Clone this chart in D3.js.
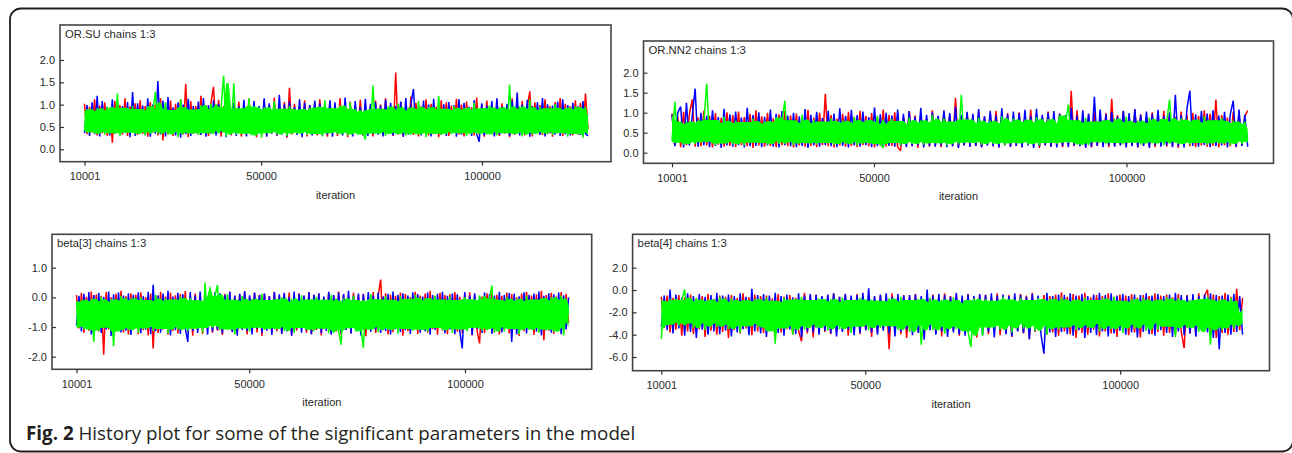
<!DOCTYPE html>
<html>
<head>
<meta charset="utf-8">
<script src="https://cdn.jsdelivr.net/npm/d3@7"></script>
<style>
  body { margin: 0; background: #fff; }
  svg { display: block; }
</style>
</head>
<body>
<div id="chart"></div>
<script>
// iterations kept after burn-in, samples are evenly spaced between them
const iterStart = 10001;
const iterEnd = 124000;
const xTicks = [10001, 50000, 100000];

const panelTitles = ["OR.SU chains 1:3", "OR.NN2 chains 1:3", "beta[3] chains 1:3", "beta[4] chains 1:3"];
const yTicks = [[0, 0.5, 1.0, 1.5, 2.0], [0, 0.5, 1.0, 1.5, 2.0], [-2.0, -1.0, 0, 1.0], [-6.0, -4.0, -2.0, 0, 2.0]];
const chainColors = ["#ff0000", "#0000ff", "#00ff00"];
const caption = "History plot for some of the significant parameters in the model";

// OR.SU
const orsuChain1 = [
  1.02, 0.34, 0.95, 0.38, 1.12, 0.31, 0.98, 0.36, 1.05, 0.30,
  0.93, 0.15, 1.08, 0.37, 0.99, 0.33, 1.14, 0.30, 0.96, 0.39,
  1.03, 0.32, 1.10, 0.35, 0.97, 0.28, 1.06, 0.38, 1.00, 0.31,
  1.15, 0.20, 0.94, 0.34, 1.09, 0.30, 1.02, 0.37, 1.12, 0.33,
  1.47, 0.27, 1.08, 0.35, 0.97, 0.32, 1.20, 0.38, 0.99, 0.30,
  1.05, 1.40, 0.34, 1.11, 0.28, 0.96, 0.36, 1.04, 0.31, 0.93,
  0.35, 1.07, 0.29, 0.98, 0.33, 1.13, 0.37, 1.01, 0.27, 0.95,
  0.34, 1.09, 0.31, 1.00, 0.36, 1.16, 0.30, 0.94, 0.35, 1.06,
  0.26, 1.38, 0.33, 1.02, 0.38, 0.95, 0.32, 1.10, 0.29, 0.99,
  0.36, 1.04, 0.31, 1.12, 0.34, 0.97, 0.28, 1.08, 0.37, 0.96,
  0.30, 1.15, 0.35, 1.01, 0.27, 1.07, 0.33, 0.98, 0.36, 1.11,
  0.31, 1.03, 0.38, 0.95, 0.29, 1.09, 0.34, 1.00, 0.32, 1.14,
  0.35, 0.97, 0.30, 1.72, 0.33, 1.06, 0.28, 0.99, 0.36, 1.18,
  0.32, 1.04, 0.29, 0.96, 0.37, 1.12, 0.31, 1.02, 0.34, 0.95,
  0.27, 1.10, 0.35, 1.05, 0.30, 0.98, 0.38, 1.13, 0.33, 1.00,
  0.29, 1.07, 0.36, 0.94, 0.31, 1.16, 0.34, 1.01, 0.28, 1.09,
  0.37, 0.97, 0.32, 1.11, 0.30, 1.03, 0.35, 0.96, 0.27, 1.14,
  0.33, 1.00, 0.38, 1.08, 0.31, 0.95, 1.30, 0.29, 1.05, 0.36,
  0.99, 0.32, 1.12, 0.34, 0.97, 0.28, 1.06, 0.37, 1.15, 0.30,
  1.02, 0.35, 0.96, 0.31, 1.10, 0.33, 1.04, 0.29, 1.25, 0.45
];
const orsuChain2 = [
  0.36, 0.99, 0.30, 1.05, 0.34, 1.20, 0.29, 1.08, 0.37, 0.95,
  0.31, 1.12, 0.35, 1.01, 0.33, 0.97, 0.38, 1.06, 0.27, 1.28,
  0.30, 1.03, 0.36, 0.98, 0.32, 1.14, 0.28, 1.00, 0.35, 1.53,
  0.33, 1.09, 0.29, 1.17, 0.37, 0.94, 0.31, 1.05, 0.26, 1.00,
  0.34, 1.13, 0.30, 0.97, 0.36, 1.07, 0.32, 1.15, 0.28, 0.99,
  0.35, 1.10, 0.31, 1.02, 0.38, 0.95, 0.27, 1.18, 0.33, 1.04,
  0.30, 0.96, 0.36, 1.11, 0.29, 1.00, 0.34, 1.08, 0.32, 0.97,
  0.37, 1.14, 0.28, 1.03, 0.35, 0.98, 0.31, 1.22, 0.33, 1.01,
  0.29, 1.07, 0.36, 0.95, 0.32, 1.12, 0.27, 1.04, 0.34, 0.99,
  0.31, 1.09, 0.37, 1.03, 0.30, 0.96, 0.33, 1.10, 0.28, 1.05,
  0.35, 0.97, 0.31, 1.16, 0.34, 1.00, 0.29, 1.08, 0.36, 0.95,
  0.32, 1.13, 0.30, 1.02, 0.35, 1.06, 0.33, 0.98, 0.29, 1.11,
  0.36, 1.04, 0.31, 0.97, 0.34, 1.07, 0.28, 1.15, 0.33, 1.02,
  1.35, 0.37, 0.96, 0.31, 1.09, 0.34, 1.00, 0.29, 1.13, 0.36,
  0.97, 0.32, 1.01, 0.30, 1.06, 0.35, 0.99, 0.28, 1.12, 0.33,
  1.04, 0.36, 0.95, 0.30, 1.10, 0.34, 0.17, 1.03, 0.31, 0.98,
  0.35, 1.08, 0.29, 1.14, 0.33, 0.96, 0.37, 1.02, 0.30, 1.09,
  0.34, 1.27, 0.31, 1.00, 0.36, 1.11, 0.28, 0.97, 0.35, 1.05,
  0.32, 1.15, 0.29, 1.01, 0.36, 0.98, 0.33, 1.07, 0.30, 1.12,
  0.34, 0.99, 0.31, 1.04, 0.37, 0.96, 0.32, 1.08, 0.35, 0.30
];
const orsuChain3 = [
  0.42, 0.90, 0.38, 0.86, 0.35, 0.92, 0.40, 0.84, 0.33, 0.95,
  0.39, 0.88, 0.36, 1.25, 0.30, 0.93, 0.41, 0.82, 0.37, 0.97,
  0.34, 0.90, 0.40, 0.87, 0.31, 0.96, 0.38, 0.85, 1.28, 0.35,
  0.91, 0.42, 1.05, 0.33, 0.88, 0.38, 0.83, 0.27, 1.12, 0.40,
  0.94, 0.35, 0.89, 0.37, 0.86, 0.32, 0.99, 0.39, 0.90, 0.36,
  1.02, 0.34, 0.87, 0.41, 0.95, 1.65, 0.29, 0.84, 0.37, 1.48,
  0.33, 0.92, 0.40, 0.86, 0.35, 1.15, 0.31, 0.96, 0.38, 0.83,
  0.26, 0.94, 0.36, 0.89, 0.42, 1.08, 0.33, 0.86, 0.39, 0.91,
  0.30, 0.97, 0.37, 0.84, 0.35, 0.90, 0.40, 0.88, 0.32, 0.93,
  0.38, 0.87, 0.34, 0.95, 0.29, 1.10, 0.36, 0.85, 0.41, 0.92,
  0.34, 0.98, 0.39, 0.86, 0.31, 1.05, 0.37, 0.90, 0.33, 0.84,
  0.40, 0.22, 0.88, 0.36, 1.43, 0.35, 0.91, 0.42, 0.86, 0.30,
  0.96, 0.38, 0.89, 0.34, 1.02, 0.37, 0.85, 0.31, 0.94, 0.39,
  0.87, 0.33, 1.08, 0.36, 0.90, 0.27, 0.95, 0.40, 0.86, 0.35,
  1.20, 0.32, 0.91, 0.38, 0.88, 0.34, 0.97, 0.41, 0.84, 0.36,
  0.93, 0.30, 0.89, 0.39, 1.04, 0.35, 0.86, 0.37, 0.92, 0.33,
  0.98, 0.40, 0.85, 0.31, 0.94, 0.38, 0.90, 0.36, 1.45, 0.34,
  0.87, 0.41, 0.96, 0.29, 0.91, 0.37, 1.12, 0.33, 0.88, 0.39,
  0.95, 0.35, 0.84, 0.40, 0.92, 0.32, 1.01, 0.38, 0.86, 0.36,
  0.93, 0.28, 0.89, 0.37, 0.97, 0.34, 0.90, 0.26, 0.95, 0.45
];

// OR.NN2
const ornn2Chain1 = [
  0.98, 0.17, 0.90, 0.14, 1.02, 0.19, 0.95, 1.33, 0.15, 0.88,
  0.16, 1.05, 0.18, 0.92, 0.13, 0.99, 0.20, 0.87, 0.15, 1.01,
  0.17, 0.94, 0.14, 1.03, 0.19, 0.89, 0.16, 0.97, 0.12, 1.06,
  0.18, 0.91, 0.15, 1.00, 0.17, 0.86, 0.14, 0.96, 0.19, 1.04,
  0.16, 0.93, 0.13, 0.98, 0.18, 0.90, 0.15, 1.07, 0.17, 0.88,
  0.14, 1.00, 0.19, 1.47, 0.16, 0.94, 0.13, 0.85, 0.18, 0.97,
  0.15, 1.02, 0.17, 0.90, 0.14, 1.05, 0.19, 0.92, 0.16, 0.99,
  0.13, 0.87, 0.18, 1.08, 0.15, 0.95, 0.17, 1.01, 0.14, 0.05,
  0.89, 0.19, 1.04, 0.16, 0.93, 0.12, 0.98, 0.18, 0.86, 0.15,
  1.06, 0.17, 0.91, 0.14, 1.02, 0.19, 0.95, 0.16, 1.37, 0.13,
  0.88, 0.18, 1.00, 0.15, 0.94, 0.17, 1.03, 0.14, 0.90, 0.19,
  0.97, 0.16, 1.05, 0.13, 0.92, 0.18, 0.99, 0.15, 0.87, 0.17,
  1.01, 0.14, 0.94, 0.19, 1.08, 0.16, 0.96, 0.12, 0.89, 0.18,
  1.03, 0.15, 0.91, 0.17, 0.98, 0.14, 0.93, 0.19, 1.55, 0.16,
  1.06, 0.18, 0.90, 0.15, 0.95, 0.13, 1.02, 0.17, 0.88, 0.19,
  0.99, 0.14, 1.35, 0.16, 0.94, 0.18, 1.04, 0.15, 0.91, 0.17,
  1.07, 0.13, 0.96, 0.19, 0.89, 0.16, 1.01, 0.14, 0.93, 0.18,
  1.05, 0.15, 0.98, 0.17, 0.90, 0.12, 1.03, 0.19, 0.95, 0.16,
  1.00, 0.14, 0.92, 0.18, 1.06, 0.15, 0.97, 0.17, 1.33, 0.13,
  0.94, 0.19, 0.88, 0.16, 1.02, 0.14, 0.99, 0.18, 0.91, 1.05
];
const ornn2Chain2 = [
  0.95, 0.16, 1.00, 1.15, 0.13, 1.25, 0.18, 0.92, 1.60, 0.15,
  1.00, 0.19, 0.92, 0.14, 1.06, 0.17, 0.89, 0.12, 1.10, 0.18,
  0.96, 0.15, 1.03, 0.19, 0.88, 0.13, 1.12, 0.16, 0.94, 0.17,
  1.01, 0.14, 0.90, 0.18, 1.08, 0.15, 0.97, 0.13, 1.04, 0.19,
  0.93, 0.16, 1.00, 0.14, 0.91, 0.17, 1.09, 0.12, 0.95, 0.18,
  1.02, 0.15, 0.87, 0.19, 1.05, 0.16, 0.98, 0.14, 1.11, 0.17,
  0.92, 0.13, 1.07, 0.18, 0.94, 0.15, 1.03, 0.19, 0.89, 0.14,
  1.13, 0.16, 0.96, 0.12, 1.00, 0.17, 0.93, 0.15, 1.08, 0.18,
  0.97, 0.14, 1.04, 0.16, 0.90, 0.19, 1.12, 0.13, 0.95, 0.17,
  1.01, 0.15, 0.92, 0.18, 1.06, 0.14, 0.99, 0.16, 1.15, 0.12,
  0.94, 0.19, 1.02, 0.15, 0.97, 0.17, 1.09, 0.14, 0.91, 0.18,
  1.05, 0.16, 0.93, 0.13, 1.11, 0.19, 0.96, 0.15, 1.03, 0.17,
  0.99, 0.14, 1.07, 0.18, 0.92, 0.12, 1.10, 0.16, 0.95, 0.19,
  1.00, 0.15, 1.04, 0.13, 0.97, 0.17, 0.94, 0.14, 1.12, 0.18,
  0.93, 0.16, 1.06, 0.12, 0.98, 0.15, 1.40, 0.17, 1.08, 0.14,
  0.96, 0.19, 1.02, 0.15, 0.90, 0.18, 1.05, 0.13, 0.99, 0.16,
  1.09, 0.14, 0.95, 0.17, 1.03, 0.12, 0.97, 0.19, 1.07, 0.15,
  0.92, 0.18, 1.01, 0.14, 1.45, 0.16, 0.94, 0.13, 1.10, 1.55,
  0.17, 0.96, 0.15, 1.04, 0.19, 0.98, 0.14, 1.06, 0.16, 0.93,
  0.18, 1.02, 0.13, 0.97, 1.30, 0.15, 1.08, 0.17, 0.95, 0.15
];
const ornn2Chain3 = [
  0.30, 1.27, 0.25, 0.72, 0.20, 0.78, 0.27, 0.68, 0.22, 0.80,
  0.26, 0.75, 1.73, 0.28, 0.82, 0.19, 0.70, 0.23, 0.90, 0.29,
  0.74, 0.21, 0.80, 0.27, 0.69, 0.18, 0.77, 0.25, 0.85, 0.30,
  0.73, 0.24, 0.79, 0.20, 0.67, 0.28, 0.88, 0.22, 0.76, 1.30,
  0.26, 0.81, 0.19, 0.71, 0.29, 0.95, 0.23, 0.74, 0.25, 0.83,
  0.21, 0.70, 0.27, 0.78, 0.24, 0.86, 0.20, 0.72, 0.28, 0.80,
  0.22, 0.75, 0.26, 0.89, 0.18, 0.68, 0.29, 0.82, 0.23, 0.77,
  0.25, 0.92, 0.21, 0.12, 0.71, 0.27, 0.84, 0.24, 0.79, 0.19,
  0.73, 0.28, 0.87, 0.22, 0.70, 0.26, 0.81, 0.20, 0.76, 0.29,
  0.94, 0.23, 0.72, 0.25, 0.85, 0.18, 0.78, 0.27, 0.69, 0.21,
  1.45, 0.30, 0.83, 0.24, 0.75, 0.26, 0.88, 0.20, 0.71, 0.28,
  0.80, 0.22, 0.74, 0.27, 0.91, 0.19, 0.68, 0.25, 0.86, 0.23,
  0.77, 0.29, 0.83, 0.21, 0.72, 0.26, 0.89, 0.18, 0.76, 0.24,
  0.84, 0.28, 0.70, 0.22, 0.93, 0.25, 0.73, 1.20, 0.27, 0.81,
  0.20, 0.75, 0.23, 0.87, 0.19, 0.71, 0.28, 0.78, 0.26, 0.82,
  0.22, 0.69, 0.30, 0.85, 0.24, 0.76, 0.21, 0.90, 0.27, 0.73,
  0.25, 0.80, 0.20, 0.74, 0.29, 0.88, 0.23, 0.71, 0.26, 0.84,
  0.19, 0.77, 1.33, 0.28, 0.72, 0.22, 0.86, 0.25, 0.79, 0.21,
  0.83, 0.27, 0.70, 0.24, 0.91, 0.20, 0.75, 0.29, 0.81, 0.23,
  0.87, 0.26, 0.74, 0.19, 0.80, 0.28, 0.71, 0.22, 0.78, 0.30
];

// beta[3]
const beta3Chain1 = [
  0.08, -1.05, 0.15, -1.20, 0.02, -1.12, 0.20, -1.30, 0.10, -1.15,
  0.05, -1.93, 0.18, -1.08, 0.00, -1.22, 0.12, -1.10, 0.22, -1.18,
  0.04, -1.25, 0.14, -1.06, 0.09, -1.24, 0.17, -1.11, 0.01, -1.28,
  0.13, -1.72, 0.06, -1.20, 0.19, -1.09, 0.03, -1.26, 0.16, -1.13,
  0.07, -1.22, 0.11, -1.05, 0.21, -1.17, 0.02, -1.29, 0.13, -1.10,
  0.05, -1.23, 0.18, -1.07, 0.09, -1.19, 0.14, -1.12, 0.00, -1.27,
  0.12, -1.08, 0.20, -1.16, 0.06, -1.21, 0.10, -1.04, 0.17, -1.25,
  0.03, -1.11, 0.15, -1.18, 0.08, -1.30, 0.12, -1.06, 0.04, -1.20,
  0.19, -1.14, 0.07, -1.23, 0.11, -1.09, 0.16, -1.27, 0.02, -1.12,
  0.14, -1.05, 0.05, -1.19, 0.18, -1.24, 0.09, -1.10, 0.13, -1.28,
  0.01, -1.07, 0.17, -1.21, 0.06, -1.15, 0.20, -1.26, 0.10, -1.09,
  0.04, -1.22, 0.15, -1.13, 0.08, -1.18, 0.12, -1.31, 0.03, -1.06,
  0.18, -1.20, 0.07, 0.60, -1.11, 0.14, -1.25, 0.09, -1.17, 0.05,
  -1.03, 0.16, -1.29, 0.11, -1.14, 0.01, -1.08, 0.19, -1.23, 0.06,
  -1.10, 0.13, -1.19, 0.22, -1.07, 0.04, -1.26, 0.15, -1.12, 0.08,
  -1.24, 0.10, -1.05, 0.18, -1.16, 0.02, -1.21, 0.12, -1.09, 0.17,
  -1.28, 0.07, -1.13, -1.55, 0.03, -1.20, 0.14, -1.06, 0.21, -1.18,
  0.09, -1.25, 0.05, -1.11, 0.16, -1.22, 0.11, -1.08, 0.00, -1.30,
  0.13, -1.14, 0.19, -1.04, 0.06, -1.27, 0.10, -1.17, 0.22, -1.45,
  0.08, -1.12, 0.15, -1.23, 0.03, -1.09, 0.18, -1.19, 0.12, -0.85
];
const beta3Chain2 = [
  -0.95, 0.05, -1.15, 0.12, -1.02, 0.18, -1.25, 0.08, -1.10, 0.15,
  -1.20, 0.02, -1.08, 0.20, -1.30, 0.10, -1.05, 0.16, -1.18, 0.06,
  -1.12, 0.14, -1.27, 0.09, -1.03, 0.17, -1.21, 0.04, -1.09, 0.19,
  -1.24, 0.42, -1.14, 0.07, -1.19, 0.13, -1.06, 0.22, -1.28, 0.03,
  -1.11, 0.15, -1.23, 0.10, -1.04, -1.50, 0.18, -1.13, 0.06, -1.20,
  0.20, -1.07, 0.11, -1.26, 0.02, -1.16, 0.17, -1.09, 0.14, -1.22,
  0.08, -1.02, 0.19, -1.17, 0.05, -1.29, 0.12, -1.10, 0.21, -1.14,
  0.07, -1.25, 0.16, -1.06, 0.09, -1.20, 0.13, -1.12, 0.04, -1.27,
  0.18, -1.08, 0.10, -1.23, 0.15, -1.15, 0.02, -1.30, 0.20, -1.05,
  0.12, -1.19, 0.06, -1.11, 0.17, -1.24, 0.09, -1.07, 0.14, -1.21,
  0.03, -1.13, 0.19, -1.26, 0.08, -1.04, 0.16, -1.18, 0.11, -1.10,
  0.22, -1.22, 0.05, -1.14, 0.13, -1.28, 0.10, -1.06, 0.18, -1.16,
  0.07, -1.09, 0.15, -1.20, 0.04, -1.13, 0.12, -1.25, 0.20, -1.07,
  0.09, -1.17, 0.14, -1.11, 0.06, -1.23, 0.17, -1.05, 0.11, -1.19,
  0.03, -1.14, 0.16, -1.26, 0.08, -1.10, 0.12, -1.02, 0.19, -1.21,
  0.05, -1.08, 0.13, -1.24, 0.10, -1.15, -1.72, 0.18, -1.12, 0.07,
  -1.27, 0.14, -1.06, 0.02, -1.20, 0.16, -1.09, 0.11, -1.23, 0.06,
  -1.13, 0.19, -1.18, 0.08, -1.04, 0.15, -1.50, 0.12, -1.25, 0.04,
  -1.10, 0.17, -1.22, 0.09, -1.07, 0.13, -1.16, 0.20, -1.28, 0.05,
  -1.11, 0.14, -1.19, 0.10, -1.03, 0.16, -1.24, 0.07, -1.08, 0.00
];
const beta3Chain3 = [
  -0.15, -1.00, -0.08, -1.08, -0.20, -0.98, -0.05, -1.50, -0.12, -1.12,
  0.02, -1.02, -0.18, -0.96, -0.06, -1.65, -0.14, -1.15, 0.05, -1.04,
  -0.10, -1.10, -0.03, -0.96, -0.16, -1.20, 0.00, -1.05, -0.09, -0.99,
  -0.17, -1.13, 0.08, -1.00, -0.11, -1.07, -0.04, -1.22, -0.13, -0.97,
  -0.07, -1.09, 0.03, -1.01, -0.15, -1.14, -0.02, -1.06, -0.10, -0.98,
  -0.19, -1.18, 0.50, -1.03, -0.12, -0.95, 0.06, 0.42, -1.11, -0.14,
  -1.00, 0.10, -1.08, -0.08, -1.25, -0.17, -0.99, 0.04, -1.05, -0.11,
  -1.16, -0.05, -1.02, -0.13, -0.97, 0.12, -1.10, -0.09, -1.04, -0.18,
  -1.07, -0.06, -0.96, 0.01, -1.13, -0.15, -1.01, -0.04, -1.19, -0.16,
  -1.03, 0.07, -0.98, -0.12, -1.09, -0.07, -1.15, 0.02, -1.00, -0.14,
  -1.06, -0.08, -1.21, 0.09, -0.97, -0.11, -1.12, -1.60, -0.03, -1.04,
  -0.17, -0.99, 0.05, -1.14, -0.09, -1.02, -1.70, -0.13, -1.08, 0.11,
  -0.96, -0.06, -1.17, -0.15, -1.01, 0.04, -1.10, -0.08, -1.05, -0.12,
  -1.23, 0.04, -0.98, -0.16, -1.07, -0.05, -1.13, 0.08, -1.00, -0.10,
  -1.09, -0.02, -1.16, -0.14, -1.03, 0.06, -0.99, -0.07, -1.11, -0.18,
  -1.04, 0.03, -1.20, -0.09, -0.95, -0.13, -1.08, 0.01, -1.14, -0.06,
  -1.02, -0.16, -0.97, 0.07, -1.12, -0.10, -1.06, -0.04, 0.40, -1.18,
  -0.08, -1.01, -0.14, -1.15, 0.02, -0.99, -0.11, -1.07, -0.05, -1.24,
  -0.12, -0.96, 0.05, -1.10, -0.17, -1.03, -0.07, -1.19, -0.02, -0.98,
  -0.13, -1.09, 0.00, -1.16, -0.10, -1.03, 0.06, -1.28, -0.07, -0.55
];

// beta[4]
const beta4Chain1 = [
  -0.60, -3.40, -0.50, -3.80, -0.70, -3.55, -0.45, -4.10, -0.65, -3.70,
  -0.40, -3.95, -0.75, -3.50, -0.55, -4.20, -0.35, -3.65, -0.80, -4.00,
  -0.50, -3.75, -0.60, -4.30, -0.45, -3.60, -0.70, -3.90, -0.30, -3.45,
  -0.65, -4.05, -0.40, -3.70, -0.55, -3.85, -0.50, -3.55, -0.75, -4.15,
  -0.35, -3.80, -0.60, -3.50, -0.45, -4.00, -0.70, -3.65, -4.60, -0.25,
  -3.90, -0.55, -4.25, -0.40, -3.60, -0.65, -3.75, -0.50, -3.95, -0.30,
  -3.85, -0.60, -3.55, -0.45, -4.10, -0.70, -3.70, -0.35, -3.95, -0.55,
  -3.60, -0.40, -4.20, -0.65, -3.80, -0.50, -3.50, -0.75, -5.30, -0.30,
  -3.70, -0.55, -3.95, -0.45, -4.30, -0.60, -3.65, -0.35, -3.85, -0.70,
  -4.00, -0.50, -3.55, -0.40, -3.90, -0.65, -4.15, -0.30, -3.75, -0.55,
  -3.60, -0.45, -4.10, -0.70, -3.80, -0.35, -3.50, -0.60, -4.25, -0.50,
  -3.70, -0.40, -3.95, -0.65, -3.55, -0.30, -4.05, -0.55, -3.85, -0.45,
  -4.20, -0.60, -3.65, -0.35, -3.90, -0.50, -4.40, -0.25, -3.75, -0.70,
  -3.60, -0.45, -4.00, -0.55, -3.80, -0.40, -4.10, -0.20, -3.70, -0.60,
  -3.95, -0.35, -4.30, -0.50, -3.85, -0.25, -4.00, -0.65, -3.55, -0.45,
  -4.15, -0.55, -3.70, -0.30, -3.90, -0.60, -4.20, -0.40, -3.65, -0.50,
  -4.05, -0.35, -3.80, -0.70, -4.25, -0.45, -3.60, -0.55, -3.95, -0.30,
  -3.75, -0.50, -4.10, -0.40, -3.85, -0.65, -4.00, -0.35, -3.70, -5.20,
  -0.45, -3.90, -0.60, -4.15, -0.30, -3.65, -0.50, 0.05, -3.80, -0.40,
  -4.30, -0.55, -3.85, -0.25, -4.00, -0.60, -3.75, 0.10, -3.60, -0.70
];
const beta4Chain2 = [
  -3.30, -0.50, -3.60, 0.05, -3.90, -0.40, -3.45, -0.65, -4.10, -0.30,
  -3.75, -0.55, -4.30, -0.35, -3.55, -0.60, -4.00, -0.45, -3.70, -0.25,
  -3.95, -0.50, -3.65, -0.40, -4.15, -0.55, -3.80, -0.30, -3.50, -0.60,
  -4.05, 0.10, -3.70, -0.45, -3.90, -0.35, -4.20, -0.50, -3.60, -0.25,
  -3.85, -0.55, -4.10, -0.40, -3.55, -0.65, -3.95, -0.30, -4.25, -0.50,
  -3.70, -0.35, -3.80, -0.45, -4.00, -0.55, -3.65, -0.40, -3.90, -0.30,
  -4.15, -0.60, -3.75, -0.35, -3.55, -0.50, -4.05, -0.45, -3.85, -0.25,
  -3.60, 0.15, -3.80, -0.55, -4.00, -0.40, -3.65, -0.30, -3.90, -0.60,
  -4.15, -0.35, -3.75, -0.50, -3.55, -0.45, -4.05, -0.40, -3.85, -0.55,
  -4.45, 0.05, -3.60, -0.50, -4.00, -0.35, -3.70, -0.45, -4.20, -0.60,
  -3.80, -0.25, -3.95, -0.50, -4.10, -0.40, -3.65, -0.55, -3.90, -0.35,
  -4.05, -0.45, -3.75, -0.30, -4.25, -0.50, -3.60, -0.40, -3.95, -0.55,
  -4.15, -0.30, -3.70, -0.45, -3.85, -0.60, -4.40, -0.35, -3.65, -0.50,
  -4.00, -5.70, -0.25, -3.80, -0.55, -4.20, -0.40, -3.75, -0.45, -3.95,
  -0.30, -4.10, -0.50, -3.60, -0.35, -4.30, -0.55, -3.85, -0.40, -4.05,
  -0.25, -3.70, -0.45, -4.15, -0.30, -3.90, -0.50, -3.65, -0.35, -4.00,
  -0.55, -3.80, -0.40, -4.25, -0.45, -3.75, -0.30, -3.95, -0.50, -4.10,
  -0.35, -3.60, -0.55, -3.85, -0.40, -4.20, -0.25, -3.70, -0.45, -4.05,
  -0.50, -3.90, -0.35, -4.15, -0.55, -3.65, -0.40, -3.80, -0.30, -4.30,
  -0.45, -5.30, -0.50, -3.85, -0.40, -4.00, -0.35, -3.75, -0.55, -4.00
];
const beta4Chain3 = [
  -4.40, -1.00, -3.10, -0.80, -2.90, -1.10, -3.20, -0.90, 0.05, -3.00,
  -1.20, -3.40, -0.70, -2.80, -1.00, -3.60, -0.85, -3.00, -1.10, -3.30,
  -0.60, -2.95, -1.05, -3.50, -0.75, -3.10, -1.15, -3.80, -0.90, -3.25,
  -1.00, -3.05, -0.80, -3.35, -1.20, -2.85, -0.65, -3.70, -0.95, -4.80,
  -1.10, -3.45, -0.70, -3.00, -1.05, -4.00, -0.85, -3.25, -0.60, -3.55,
  -1.15, -2.90, -0.90, -3.40, -0.75, -3.10, -1.00, -3.65, -0.80, -3.20,
  -1.25, -3.50, -0.65, -2.95, -1.05, -3.85, -0.90, -3.30, -0.70, -3.05,
  -1.10, -3.60, -0.85, -3.15, -0.95, -3.40, -1.20, -2.90, -0.75, -3.25,
  -1.00, -3.55, -0.60, -3.00, -1.10, -3.75, -0.90, -3.20, -0.80, -4.90,
  -1.15, -2.95, -0.70, -3.60, -1.05, -3.10, -0.85, -3.90, -1.00, -3.30,
  -0.65, -3.50, -1.20, -2.85, -0.90, -3.70, -5.10, -0.75, -3.15, -1.05,
  -4.10, -0.80, -3.35, -0.95, -3.00, -1.10, -3.55, -0.60, -3.20, -0.85,
  -3.80, -1.00, -3.05, -0.70, -3.45, -1.15, -2.95, -0.90, -3.65, -0.75,
  -3.25, -1.05, -4.00, -0.80, -3.10, -0.95, -3.50, -0.65, -3.35, -1.10,
  -2.90, -0.85, -3.60, -1.00, -3.15, -0.70, -3.40, -1.20, -2.80, -0.90,
  -3.70, -0.75, -3.05, -1.10, -3.50, -0.60, -3.25, -0.95, -3.85, -1.05,
  -2.95, -0.80, -3.45, -1.15, -3.10, -0.70, -3.65, -1.00, -3.00, -0.85,
  -3.55, -1.20, -2.90, -0.65, -3.30, -0.95, -4.20, -0.75, -3.15, -1.10,
  -3.40, -0.90, -3.00, -1.05, -3.75, -0.80, -3.20, -0.60, -4.90, -1.00,
  -3.35, -0.85, -3.60, -1.15, -2.95, -0.70, -3.45, -1.00, -3.10, -2.80
];

const panelChains = [
  [orsuChain1, orsuChain2, orsuChain3],
  [ornn2Chain1, ornn2Chain2, ornn2Chain3],
  [beta3Chain1, beta3Chain2, beta3Chain3],
  [beta4Chain1, beta4Chain2, beta4Chain3]
];

// where each panel sits on the page (boxes are not quite aligned in the original)
const layout = [
  { left: 60, top: 25, right: 611, bottom: 161.7, xr: [84.5, 482], yr: [149.3, 60] },
  { left: 643.5, top: 41, right: 1273.5, bottom: 163.3, xr: [672, 1126.5], yr: [152.7, 72.7] },
  { left: 52, top: 234.3, right: 591.7, bottom: 369.3, xr: [76.5, 465], yr: [356.7, 267.7] },
  { left: 632.6, top: 234.3, right: 1269.5, bottom: 370.7, xr: [661.3, 1120.2], yr: [357, 267.7] }
];

// running band of a trace over a 6-sample window (20%..80% quantiles),
// isolated spikes stay out of it
function coreBand(vals) {
  return vals.map((v, i) => {
    const w = vals.slice(Math.max(0, i - 2), Math.min(vals.length, i + 4));
    return [d3.quantile(w, 0.2), d3.quantile(w, 0.8)];
  });
}

const svg = d3.select("#chart")
  .append("svg")
  .attr("width", 1292)
  .attr("height", 453);

// outer rounded frame of the figure
svg.append("rect")
  .attr("x", 10)
  .attr("y", 8.5)
  .attr("width", 1283)
  .attr("height", 443)
  .attr("rx", 11)
  .attr("fill", "none")
  .attr("stroke", "#231f20")
  .attr("stroke-width", 1.8);

panelChains.forEach((chains, p) => {
  const L = layout[p];
  const g = svg.append("g");

  const x = d3.scaleLinear().domain([xTicks[0], xTicks[2]]).range(L.xr);
  const y = d3.scaleLinear().domain(d3.extent(yTicks[p])).range(L.yr);

  // one trace per chain, chain 3 (green) ends up on top and its dense core hides the rest
  chains.forEach((vals, c) => {
    const step = (iterEnd - iterStart) / (vals.length - 1);
    const xi = (i) => x(iterStart + i * step);

    if (c === chains.length - 1) {
      const area = d3.area()
        .x((d, i) => xi(i))
        .y0((d) => y(d[0]))
        .y1((d) => y(d[1]));
      g.append("path")
        .datum(coreBand(vals))
        .attr("d", area)
        .attr("fill", chainColors[c]);
    }

    const line = d3.line()
      .x((d, i) => xi(i))
      .y((d) => y(d));
    g.append("path")
      .datum(vals)
      .attr("d", line)
      .attr("fill", "none")
      .attr("stroke", chainColors[c])
      .attr("stroke-width", 1.5)
      .attr("stroke-linejoin", "bevel");
  });

  // panel box
  g.append("rect")
    .attr("x", L.left)
    .attr("y", L.top)
    .attr("width", L.right - L.left)
    .attr("height", L.bottom - L.top)
    .attr("fill", "none")
    .attr("stroke", "#444")
    .attr("stroke-width", 1.6);

  // y axis, ticks point into the box
  const yAxis = g.append("g")
    .attr("transform", `translate(${L.left},0)`)
    .call(d3.axisLeft(y).tickValues(yTicks[p]).tickSize(-4).tickPadding(5).tickFormat((d) => d.toFixed(1)));
  yAxis.select(".domain").remove();

  // x axis
  const xAxis = g.append("g")
    .attr("transform", `translate(0,${L.bottom})`)
    .call(d3.axisBottom(x).tickValues(xTicks).tickSize(4).tickPadding(7).tickFormat((d) => String(d)));
  xAxis.select(".domain").remove();

  g.selectAll(".tick line").attr("stroke", "#333").attr("stroke-width", 1.2);
  g.selectAll(".tick text")
    .attr("fill", "#2a2a2a")
    .style("font-family", "Arial, 'Liberation Sans', sans-serif")
    .style("font-size", "11px");

  // panel title
  g.append("text")
    .attr("x", L.left + 5)
    .attr("y", L.top + 12.5)
    .attr("fill", "#2a2a2a")
    .style("font-family", "Arial, 'Liberation Sans', sans-serif")
    .style("font-size", "11.3px")
    .text(panelTitles[p]);

  // x axis title
  g.append("text")
    .attr("x", (L.left + L.right) / 2)
    .attr("y", L.bottom + 37)
    .attr("text-anchor", "middle")
    .attr("fill", "#2a2a2a")
    .style("font-family", "Arial, 'Liberation Sans', sans-serif")
    .style("font-size", "11px")
    .text("iteration");
});

// figure caption
const cap = svg.append("text")
  .attr("x", 26)
  .attr("y", 440)
  .attr("fill", "#231f20")
  .style("font-family", "'Open Sans', 'Noto Sans', sans-serif")
  .style("font-size", "18.8px");
cap.append("tspan").attr("font-weight", "bold").text("Fig. 2");
cap.append("tspan").text(" " + caption);
</script>
</body>
</html>
